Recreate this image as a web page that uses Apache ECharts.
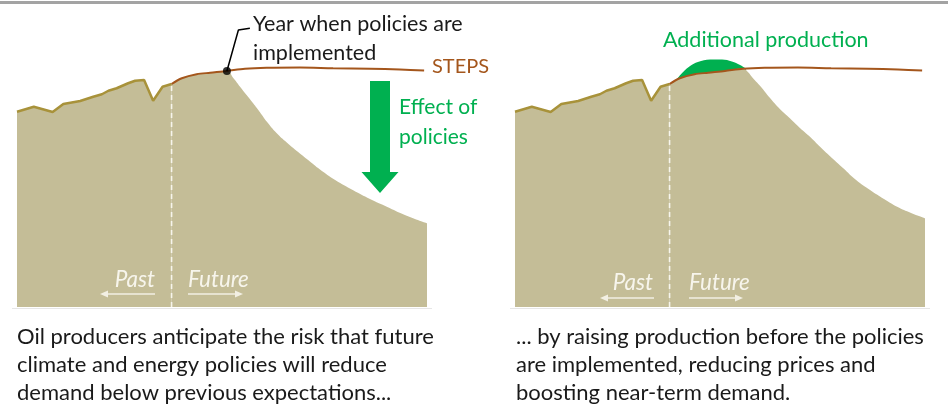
<!DOCTYPE html>
<html><head><meta charset="utf-8">
<script src="https://cdn.jsdelivr.net/npm/echarts@6/dist/echarts.min.js"></script>
<style>html,body{margin:0;padding:0;background:#fff}#c{width:948px;height:412px}</style>
</head><body><div id="c"></div><script>
// Schematic units: time index 0-100, production index 0-120
const histX = [0, 4.1, 8.7, 11.3, 15.4, 18.6, 20.7, 22.3, 24.3, 27.1, 28.8, 31, 33.2, 35.5, 37.7];
const histY = [78.1, 80.1, 78, 81.2, 82.4, 84.1, 85.1, 86.5, 87.5, 89.5, 90.5, 90.8, 82.5, 88.1, 89.2];
const stepsX = [37.7, 40.2, 43.8, 47.1, 51.2, 55.6, 60.9, 69, 77.1, 86.1, 93.4, 99.3];
const stepsY = [89.2, 91.5, 93.1, 93.7, 94.4, 95.3, 95.7, 95.8, 95.5, 95.3, 95, 94.6];
const policyLeftX = [51.2, 52.8, 54.4, 56, 57.6, 59.3, 60.9, 63.3, 65.8, 69, 71, 73.9, 77.6, 82, 86.1, 90.2, 94.6, 100];
const policyLeftY = [94.4, 91.5, 88.1, 84.8, 81.5, 77.8, 74.2, 69.6, 65.8, 61.4, 58.8, 55.0, 50.8, 46.7, 43.2, 40.1, 36.8, 33.5];
const policyRightX = [55.6, 56.8, 58.0, 59.8, 62.2, 64.6, 67.1, 69.5, 72, 74.4, 77.3, 80, 83.2, 86.6, 90, 93.2, 96.6, 100];
const policyRightY = [95.4, 94, 91.6, 88.4, 83.6, 79.2, 75.4, 71.6, 68, 64.1, 59.6, 55.6, 50.8, 46.8, 43.2, 40.1, 37.6, 35.5];
const extraX = [39.5, 41, 42.7, 44.6, 47.6, 50.5, 52.9, 54.9, 56.3];
const extraY = [91.2, 94, 96.4, 98, 99, 99, 98.2, 96.8, 95.4];
const policyYear = [51.2, 94.4];
const todayX = 37.7;
const leaderX = [51.2, 54, 56.8];
const leaderY = [94.4, 110.8, 111.5];

const zip = (xs, ys) => xs.map((x, i) => [x, ys[i]]);
const hist = zip(histX, histY);
const steps = zip(stepsX, stepsY);
const futureLeft = steps.filter(p => p[0] < policyLeftX[0]).concat(zip(policyLeftX, policyLeftY));
const futureRight = steps.filter(p => p[0] < policyRightX[0]).concat(zip(policyRightX, policyRightY));
const todayLine = [[todayX, 0], [todayX, histY[histY.length - 1]]];

const TAN = '#c4bd97', OLIVE = '#a8923a', BROWN = '#a4561c', GREEN = '#00b050';
const FONT = 'Lato, "Open Sans", sans-serif';

function panel(g) {
  return [
    { type: 'line', xAxisIndex: g, yAxisIndex: g, data: hist, symbol: 'none',
      lineStyle: { width: 0 }, areaStyle: { color: TAN, opacity: 1 }, z: 2 },
    { type: 'line', xAxisIndex: g, yAxisIndex: g, data: g === 0 ? futureLeft : futureRight, symbol: 'none', smooth: 0.45,
      lineStyle: { width: 0 }, areaStyle: { color: TAN, opacity: 1 }, z: 2 },
    { type: 'line', xAxisIndex: g, yAxisIndex: g, data: hist, symbol: 'none',
      lineStyle: { color: OLIVE, width: 2.5 }, z: 4 },
    { type: 'line', xAxisIndex: g, yAxisIndex: g, data: steps, symbol: 'none', smooth: 0.3,
      lineStyle: { color: BROWN, width: 2 }, z: 5 },
    { type: 'line', xAxisIndex: g, yAxisIndex: g, data: todayLine, symbol: 'none',
      lineStyle: { color: '#f7f5ec', width: 1.6, type: [5, 4] }, z: 3 }
  ];
}

const series = panel(0).concat(panel(1));
series.push({ type: 'line', xAxisIndex: 1, yAxisIndex: 1, data: zip(extraX, extraY), symbol: 'none', smooth: 0.4,
  lineStyle: { width: 0 }, areaStyle: { color: GREEN, opacity: 1 }, z: 1 });
series.push({ type: 'line', xAxisIndex: 0, yAxisIndex: 0, data: zip(leaderX, leaderY), symbol: 'none',
  lineStyle: { color: '#000', width: 1.5 }, z: 6 });
series.push({ type: 'scatter', xAxisIndex: 0, yAxisIndex: 0, data: [policyYear], symbolSize: 8,
  itemStyle: { color: '#000' }, z: 7 });

function txt(text, x, y, fill, size, extra) {
  return { type: 'text', z: 100, style: Object.assign({ text, x, y, fill, font: size + 'px ' + FONT, verticalAlign: 'middle' }, extra || {}) };
}
function arrow(x1, x2, y) {
  const d = x2 > x1 ? 1 : -1;
  return [
    { type: 'line', z: 100, shape: { x1, y1: y, x2: x2 - d * 6, y2: y }, style: { stroke: '#f2efe3', lineWidth: 1.5 } },
    { type: 'polygon', z: 100, shape: { points: [[x2, y], [x2 - d * 8, y - 3.5], [x2 - d * 8, y + 3.5]] }, style: { fill: '#f2efe3' } }
  ];
}

const graphic = [
  { type: 'rect', z: 100, shape: { x: 0, y: 1, width: 948, height: 3 }, style: { fill: '#a3a3a3' } },
  { type: 'line', z: 100, shape: { x1: 12, y1: 308.5, x2: 432, y2: 308.5 }, style: { stroke: '#e6e6e6', lineWidth: 1 } },
  { type: 'line', z: 100, shape: { x1: 510, y1: 308.5, x2: 930, y2: 308.5 }, style: { stroke: '#e6e6e6', lineWidth: 1 } },
  { type: 'polygon', z: 100, shape: { points: [[370, 81], [390, 81], [390, 172], [398.5, 172], [380, 193], [361.5, 172], [370, 172]] }, style: { fill: GREEN } },
  txt('Year when policies are', 253, 24, '#1a1a1a', 21.5),
  txt('implemented', 253, 53, '#1a1a1a', 21.5),
  txt('STEPS', 432, 67, BROWN, 20),
  txt('Effect of', 399, 107, GREEN, 21),
  txt('policies', 399, 137, GREEN, 21),
  txt('Additional production', 663, 40, GREEN, 21.5),
  txt('Past', 155, 280, '#f7f5ec', 22, { align: 'right', font: 'italic 22.5px ' + FONT }),
  txt('Future', 188, 280, '#f7f5ec', 22, { font: 'italic 22.5px ' + FONT }),
  txt('Past', 653, 283, '#f7f5ec', 22, { align: 'right', font: 'italic 22.5px ' + FONT }),
  txt('Future', 689, 283, '#f7f5ec', 22, { font: 'italic 22.5px ' + FONT }),
  txt('Oil producers anticipate the risk that future', 17, 337, '#1a1a1a', 22),
  txt('climate and energy policies will reduce', 17, 365, '#1a1a1a', 22),
  txt('demand below previous expectations...', 17, 393, '#1a1a1a', 22),
  txt('... by raising production before the policies', 516, 337, '#1a1a1a', 22),
  txt('are implemented, reducing prices and', 516, 365, '#1a1a1a', 22),
  txt('boosting near-term demand.', 516, 393, '#1a1a1a', 22)
].concat(arrow(155, 100, 294), arrow(188, 243, 294), arrow(654, 600, 298), arrow(689, 743, 298));

const chart = echarts.init(document.getElementById('c'), null, { renderer: 'canvas' });
chart.setOption({
  animation: false,
  grid: [
    { left: 17, top: 7, width: 410, height: 300 },
    { left: 515, top: 7, width: 410, height: 300 }
  ],
  xAxis: [0, 1].map(i => ({ type: 'value', gridIndex: i, min: 0, max: 100, show: false })),
  yAxis: [0, 1].map(i => ({ type: 'value', gridIndex: i, min: 0, max: 120, show: false })),
  series,
  graphic
});
</script></body></html>
